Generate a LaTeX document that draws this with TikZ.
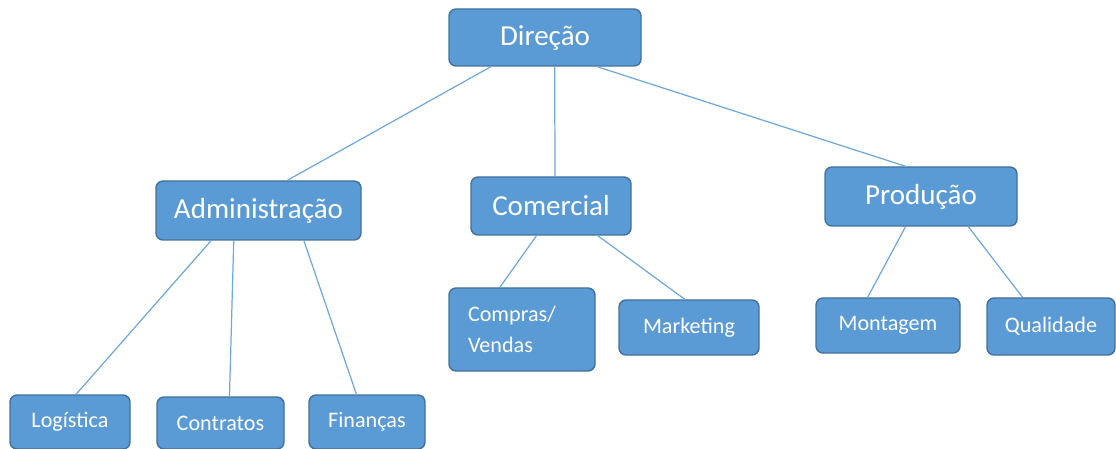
\documentclass[tikz,border=0pt]{standalone}
\usepackage{fontspec}
\setmainfont{Carlito}
\usetikzlibrary{calc}

\definecolor{boxfill}{HTML}{5B9BD5}
\definecolor{boxline}{HTML}{41719C}
\definecolor{link}{HTML}{6FA8DC}

\tikzset{
  unit/.style={draw=boxline, fill=boxfill, rounded corners=4pt, line width=0.8pt,
    text=white, inner sep=0pt, align=center},
  bigunit/.style={unit, font=\fontsize{16.5}{19}\selectfont},
  smallunit/.style={unit, font=\fontsize{12.6}{17.5}\selectfont},
  link/.style={draw=link, line width=0.7pt}
}

\begin{document}
\begin{tikzpicture}[x=0.02cm, y=-0.02cm]
  \useasboundingbox (0, 0) rectangle (1116, 449);

  % top level
  \node[bigunit, minimum width=192*0.02cm, minimum height=57*0.02cm] (dir) at (545, 37.5) {Direção};

  % departments
  \node[bigunit, minimum width=205*0.02cm, minimum height=59*0.02cm] (adm) at (258.5, 210.5) {Administração};
  \node[bigunit, minimum width=160*0.02cm, minimum height=58*0.02cm] (com) at (551, 206) {Comercial};
  \node[bigunit, minimum width=192*0.02cm, minimum height=59*0.02cm] (prod) at (921, 196.5) {Produção};

  % sections
  \node[smallunit, minimum width=146*0.02cm, minimum height=83*0.02cm, text width=108*0.02cm, align=left] (comp) at (522, 329.5) {Compras/\\Vendas};
  \node[smallunit, minimum width=140*0.02cm, minimum height=55*0.02cm] (mkt) at (689, 327.5) {Marketing};
  \node[smallunit, minimum width=144*0.02cm, minimum height=55*0.02cm] (mont) at (888, 325.5) {Montagem};
  \node[smallunit, minimum width=128*0.02cm, minimum height=57*0.02cm] (qual) at (1051, 326.5) {Qualidade};
  \node[smallunit, minimum width=120*0.02cm, minimum height=54*0.02cm] (log) at (70, 422) {Logística};
  \node[smallunit, minimum width=127*0.02cm, minimum height=52*0.02cm] (con) at (220.5, 423) {Contratos};
  \node[smallunit, minimum width=116*0.02cm, minimum height=54*0.02cm] (fin) at (367, 422) {Finanças};

  % links
  \draw[link] ($(dir.south west)!0.22!(dir.south east)$) -- ($(adm.north west)!0.64!(adm.north east)$);
  \draw[link] ($(dir.south west)!0.55!(dir.south east)$) -- ($(com.north west)!0.525!(com.north east)$);
  \draw[link] ($(dir.south west)!0.77!(dir.south east)$) -- ($(prod.north west)!0.42!(prod.north east)$);

  \draw[link] ($(adm.south west)!0.27!(adm.south east)$) -- ($(log.north west)!0.55!(log.north east)$);
  \draw[link] ($(adm.south west)!0.38!(adm.south east)$) -- ($(con.north west)!0.57!(con.north east)$);
  \draw[link] ($(adm.south west)!0.72!(adm.south east)$) -- ($(fin.north west)!0.41!(fin.north east)$);

  \draw[link] ($(com.south west)!0.41!(com.south east)$) -- ($(comp.north west)!0.35!(comp.north east)$);
  \draw[link] ($(com.south west)!0.79!(com.south east)$) -- ($(mkt.north west)!0.47!(mkt.north east)$);

  \draw[link] ($(prod.south west)!0.42!(prod.south east)$) -- ($(mont.north west)!0.36!(mont.north east)$);
  \draw[link] ($(prod.south west)!0.745!(prod.south east)$) -- ($(qual.north west)!0.28!(qual.north east)$);
\end{tikzpicture}
\end{document}
